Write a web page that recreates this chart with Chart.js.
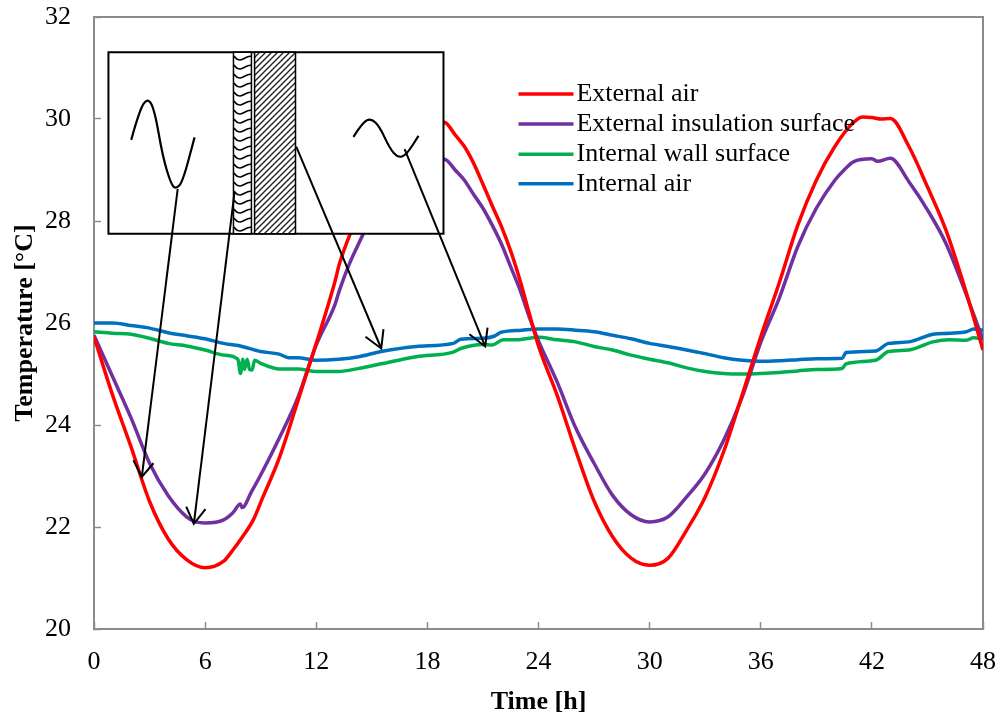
<!DOCTYPE html>
<html>
<head>
<meta charset="utf-8">
<title>Temperature</title>
<script src="https://cdn.jsdelivr.net/npm/chart.js@4"></script>
<style>
  html, body { margin: 0; padding: 0; background: #fff; }
  canvas { display: block; }
</style>
</head>
<body>
<canvas id="chart" width="997" height="715"></canvas>
<script>
// --- Data ---
const redHours = [0,1,2,3,4,5,6,7,7.5,8,8.6,9.1,10,11,12,13,13.26,13.8,15,16,17,18,19,19.5,20,20.5,21,21.5,22,22.5,23,23.5,24,25,26,27,28,29,30,31,32,33,34,35,36,37,38,39,40,41,41.5,42,42.5,43,44,45,46,47,48];
const externalAir = [25.73,24.59,23.57,22.5,21.77,21.36,21.2,21.33,21.55,21.8,22.14,22.57,23.35,24.46,25.6,26.8,27.17,27.72,28.7,29.4,29.85,30.0,29.92,29.69,29.46,29.13,28.72,28.3,27.89,27.41,26.84,26.19,25.55,24.59,23.51,22.51,21.81,21.39,21.25,21.39,21.94,22.59,23.48,24.59,25.73,26.79,27.92,28.8,29.46,29.93,30.04,30.03,30.0,30.01,29.46,28.67,27.82,26.71,25.47];

const purpleHours = [0,1,2,3,4,5,5.5,6,7,7.5,7.9,8,8.5,9,10,11,12,13,13.26,13.8,14.5,15,16,17,18,19,19.5,20,20.5,21,21.5,22,22.5,23,23.5,24,25,26,27,28,29,30,31,32,33,34,35,36,37,38,39,40,40.5,41,42,42.3,43,44,45,46,47,48];
const insulationSurface = [25.76,24.95,24.14,23.25,22.62,22.2,22.1,22.08,22.14,22.28,22.45,22.38,22.69,23.02,23.74,24.53,25.57,26.35,26.65,27.17,27.72,28.15,28.75,29.1,29.25,29.2,29.0,28.8,28.52,28.25,27.92,27.55,27.1,26.65,26.12,25.65,24.85,23.95,23.25,22.62,22.24,22.1,22.2,22.59,23.05,23.7,24.55,25.62,26.49,27.5,28.25,28.8,29.0,29.16,29.22,29.17,29.23,28.77,28.22,27.56,26.65,25.67];

const wallHours = [0,1,2,3,4,5,6,7,7.77,7.91,8.04,8.13,8.27,8.4,8.54,8.67,9,10,11,12,13.2,14.3,15.5,17.4,19.4,19.8,21,21.5,22.1,22.8,24,25,26,27,28,29,30,31,32,33,34,35,36,37,38,39,40.4,40.6,42.2,42.9,44,45.3,46.2,47.1,47.5,48];
const wallSurface = [25.83,25.8,25.78,25.7,25.6,25.55,25.47,25.37,25.29,25.01,25.29,25.09,25.29,25.09,25.08,25.27,25.21,25.1,25.1,25.05,25.05,25.11,25.2,25.34,25.43,25.5,25.58,25.57,25.67,25.67,25.72,25.67,25.63,25.54,25.47,25.37,25.29,25.22,25.12,25.05,25.01,25.0,25.01,25.03,25.06,25.09,25.11,25.2,25.27,25.44,25.47,25.63,25.67,25.66,25.71,25.69];

const airHours = [0,1,2,3,4,5,6,7,8,9,10,10.5,11,12,13.2,14.3,15.5,17.4,19.4,19.8,21,21.6,22,23.1,24,25,26,27,28,29,30,31,32,33,34,35,36,37,38,39,40.4,40.6,42.2,42.9,44,45.3,46.2,47.1,47.5,48];
const internalAir = [26.0,26.0,25.95,25.9,25.81,25.75,25.69,25.6,25.54,25.44,25.39,25.32,25.32,25.27,25.29,25.34,25.44,25.54,25.6,25.68,25.7,25.74,25.82,25.86,25.88,25.88,25.86,25.83,25.76,25.69,25.6,25.54,25.47,25.4,25.32,25.27,25.25,25.26,25.28,25.3,25.31,25.42,25.45,25.6,25.63,25.78,25.8,25.83,25.88,25.86];

const seriesNames = ['External air','External insulation surface','Internal wall surface','Internal air'];
const seriesColors = ['#ff0000','#7030a0','#00b050','#0070c0'];

// --- Inset sketch, in axis units (h, °C) ---
const insetBox = [0.78,18.87,27.75,31.31];
const insulationLayer = [7.53,8.5];
const wallLayer = [8.67,10.88];
const waveLeft = [[2.01,29.59],[2.46,30.18],[2.90,30.42],[3.27,30.18],[3.71,29.26],[4.17,28.71],[4.44,28.63],[4.79,28.77],[5.43,29.64]];
const waveRight = [[14.01,29.65],[14.51,29.94],[14.97,30.01],[15.42,29.85],[15.96,29.43],[16.40,29.24],[16.86,29.29],[17.52,29.67]];
const arrows = [
  [[4.52,28.63],[2.58,22.98],[2.13,23.31],[3.21,23.25]],
  [[7.59,28.57],[5.39,22.06],[4.98,22.40],[6.02,22.35]],
  [[10.92,29.46],[15.51,25.50],[14.66,25.73],[15.63,25.88]],
  [[16.77,29.41],[21.12,25.54],[20.27,25.78],[21.25,25.91]]
];
const legendPos = {x1:22.92, x2:25.89, text:26.05, y:[30.49,29.90,29.31,28.73]};

const tickHours = [0,6,12,18,24,30,36,42,48];

function toPoints(xs, ys) {
  return xs.map((x,i) => ({x:x, y:ys[i]}));
}

function makeTile(w, h, draw) {
  const c = document.createElement('canvas');
  c.width = w; c.height = h;
  const g = c.getContext('2d');
  g.fillStyle = '#fff';
  g.fillRect(0,0,w,h);
  draw(g);
  return c;
}

const axisGrey = '#8c8c8c';

const insetPlugin = {
  id: 'inset',
  beforeDatasetsDraw(chart) {
    // top and right frame lines
    const ctx = chart.ctx, a = chart.chartArea;
    ctx.save();
    ctx.strokeStyle = axisGrey;
    ctx.lineWidth = 2;
    ctx.beginPath();
    ctx.moveTo(a.left, a.top);
    ctx.lineTo(a.right, a.top);
    ctx.lineTo(a.right, a.bottom);
    ctx.stroke();
    ctx.restore();
  },
  afterDatasetsDraw(chart) {
    const ctx = chart.ctx, sx = chart.scales.x, sy = chart.scales.y;
    const px = v => sx.getPixelForValue(v), py = v => sy.getPixelForValue(v);

    const rect = (x1,x2,y1,y2,fill,lw) => {
      ctx.beginPath();
      ctx.rect(px(x1), py(y2), px(x2)-px(x1), py(y1)-py(y2));
      if (fill) { ctx.fillStyle = fill; ctx.fill(); }
      ctx.lineWidth = lw; ctx.strokeStyle = '#000'; ctx.stroke();
    };
    const poly = (pts, lw) => {
      ctx.beginPath();
      pts.forEach((p,i) => i ? ctx.lineTo(px(p[0]),py(p[1])) : ctx.moveTo(px(p[0]),py(p[1])));
      ctx.lineWidth = lw; ctx.strokeStyle = '#000'; ctx.stroke();
    };
    const smooth = (pts, lw) => {
      ctx.beginPath();
      ctx.moveTo(px(pts[0][0]), py(pts[0][1]));
      for (let i=1; i<pts.length-1; i++) {
        const mx = (pts[i][0]+pts[i+1][0])/2, my = (pts[i][1]+pts[i+1][1])/2;
        ctx.quadraticCurveTo(px(pts[i][0]), py(pts[i][1]), px(mx), py(my));
      }
      const last = pts[pts.length-1];
      ctx.lineTo(px(last[0]), py(last[1]));
      ctx.lineWidth = lw; ctx.strokeStyle = '#000'; ctx.stroke();
    };

    ctx.save();
    const wavy = ctx.createPattern(makeTile(18,9,g => {
      g.strokeStyle = '#000'; g.lineWidth = 1.6;
      g.beginPath(); g.moveTo(0,2); g.quadraticCurveTo(4,8,9,5); g.quadraticCurveTo(14,2,18,2); g.stroke();
    }),'repeat');
    const hatch = ctx.createPattern(makeTile(6,6,g => {
      g.strokeStyle = '#222'; g.lineWidth = 1.4;
      g.beginPath(); g.moveTo(-1,7); g.lineTo(7,-1); g.moveTo(-4,4); g.lineTo(4,-4); g.moveTo(2,10); g.lineTo(10,2); g.stroke();
    }),'repeat');

    rect(insetBox[0],insetBox[1],insetBox[2],insetBox[3],'#fff',2);
    rect(insulationLayer[0],insulationLayer[1],insetBox[2],insetBox[3],wavy,1.5);
    rect(wallLayer[0],wallLayer[1],insetBox[2],insetBox[3],hatch,1.5);
    smooth(waveLeft,2.2);
    smooth(waveRight,2.2);
    arrows.forEach(a => {
      poly([a[0],a[1]],2);
      poly([a[2],a[1],a[3]],2);
    });

    // legend sits on top of the curves
    ctx.font = '26px "Liberation Serif"';
    ctx.textBaseline = 'middle';
    ctx.textAlign = 'left';
    seriesNames.forEach((name,i) => {
      const y = py(legendPos.y[i]);
      ctx.beginPath();
      ctx.moveTo(px(legendPos.x1), y);
      ctx.lineTo(px(legendPos.x2), y);
      ctx.strokeStyle = seriesColors[i]; ctx.lineWidth = 3.5; ctx.stroke();
      ctx.fillStyle = '#000';
      ctx.fillText(name, px(legendPos.text), y);
    });
    ctx.restore();
  }
};

const axisFont = {family:'"Liberation Serif"', size:26};
const titleFont = {family:'"Liberation Serif"', size:26, weight:'bold'};

function clearPadding(s) {
  s.paddingLeft = s.paddingRight = s.paddingTop = s.paddingBottom = 0;
}

new Chart(document.getElementById('chart'), {
  type: 'scatter',
  data: {
    datasets: [
      toPoints(redHours, externalAir),
      toPoints(purpleHours, insulationSurface),
      toPoints(wallHours, wallSurface),
      toPoints(airHours, internalAir)
    ].map((pts,i) => ({
      label: seriesNames[i],
      data: pts,
      showLine: true,
      borderColor: seriesColors[i],
      backgroundColor: seriesColors[i],
      borderWidth: 3.5,
      pointRadius: 0,
      cubicInterpolationMode: 'monotone'
    }))
  },
  options: {
    responsive: false,
    animation: false,
    layout: {padding: {left: 0, right: 14, top: 17, bottom: 0}},
    plugins: {legend: {display: false}, tooltip: {enabled: false}},
    scales: {
      x: {
        type: 'linear', min: 0, max: 48,
        afterFit(s) { s.height = 86; clearPadding(s); },
        afterBuildTicks(s) { s.ticks = tickHours.map(v => ({value:v})); },
        ticks: {color:'#000', font:axisFont, padding:25, maxRotation:0, autoSkip:false},
        grid: {drawOnChartArea:false, tickLength:-7, tickColor:axisGrey, tickWidth:1.5},
        border: {color:axisGrey, width:2},
        title: {display:true, text:'Time [h]', color:'#000', font:titleFont, padding:{top:0,bottom:-3}}
      },
      y: {
        min: 20, max: 32,
        afterFit(s) { s.width = 94; clearPadding(s); },
        ticks: {stepSize:2, color:'#000', font:axisFont, padding:30},
        grid: {drawOnChartArea:false, tickLength:-7, tickColor:axisGrey, tickWidth:1.5},
        border: {color:axisGrey, width:2},
        title: {display:true, text:'Temperature [°C]', color:'#000', font:titleFont, padding:{top:10,bottom:0}}
      }
    }
  },
  plugins: [insetPlugin]
});
</script>
</body>
</html>
